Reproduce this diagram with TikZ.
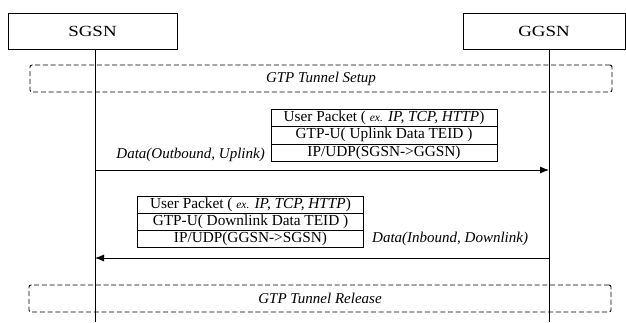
\documentclass[tikz,border=0pt]{standalone}
\usepackage{fontspec}
\setmainfont{Liberation Serif}
\newfontfamily\widefont[FakeStretch=1.22]{Liberation Serif}
\usetikzlibrary{arrows.meta}
\begin{document}
\begin{tikzpicture}[x=1pt,y=-1pt,
  actor/.style={draw, line width=0.7pt, minimum height=36pt, inner sep=0pt, font=\widefont\fontsize{15.5}{17}\selectfont},
  phase/.style={draw, dash pattern=on 5pt off 2.7pt, rounded corners=2pt, line width=0.85pt, minimum width=582pt, minimum height=27pt, inner sep=0pt, font=\fontsize{15}{17}\selectfont\itshape},
  row/.style={draw, line width=0.7pt, outer sep=0pt, minimum width=226pt, minimum height=17.3pt, inner sep=0pt, font=\fontsize{15.3}{17}\selectfont},
  life/.style={line width=0.8pt},
  msg/.style={line width=0.8pt, -{Latex[length=9pt,width=7pt]}},
  lbl/.style={font=\fontsize{15}{17}\selectfont\itshape, inner sep=0pt}
]
\useasboundingbox (0,0) rectangle (626,322);
% actors
\node[actor, minimum width=169pt] (sgsn) at (92.5,31) {SGSN};
\node[actor, minimum width=162pt] (ggsn) at (544,31) {GGSN};
\coordinate (sTop) at (95,49);
\coordinate (sBot) at (95,322);
\coordinate (gTop) at (549,49);
\coordinate (gBot) at (549,322);
\draw[life] (sTop) -- (sBot);
\draw[life] (gTop) -- (gBot);
% phases
\node[phase] (setup) at (321,78.5) {GTP Tunnel Setup};
\node[phase] (release) at (320,298.5) {GTP Tunnel Release};
% uplink packet
\node[row] (u1) at (384,118) {User Packet ( {\fontsize{11.5}{13}\selectfont\itshape ex.} \textit{IP, TCP, HTTP})};
\node[row, anchor=north] (u2) at (u1.south) {GTP-U( Uplink Data TEID )};
\node[row, anchor=north] (u3) at (u2.south) {IP/UDP(SGSN->GGSN)};
\node[lbl, anchor=east] (ulbl) at (265,155) {Data(Outbound, Uplink)};
\coordinate (sUp) at (95,170);
\coordinate (gUp) at (549,170);
\draw[msg] (sUp) -- (gUp);
% downlink packet
\node[row] (d1) at (250.5,204.5) {User Packet ( {\fontsize{11.5}{13}\selectfont\itshape ex.} \textit{IP, TCP, HTTP})};
\node[row, anchor=north] (d2) at (d1.south) {GTP-U( Downlink Data TEID )};
\node[row, anchor=north] (d3) at (d2.south) {IP/UDP(GGSN->SGSN)};
\node[lbl, anchor=west] (dlbl) at (372,239) {Data(Inbound, Downlink)};
\coordinate (gDn) at (549,258);
\coordinate (sDn) at (95,258);
\draw[msg] (gDn) -- (sDn);
\end{tikzpicture}
\end{document}
